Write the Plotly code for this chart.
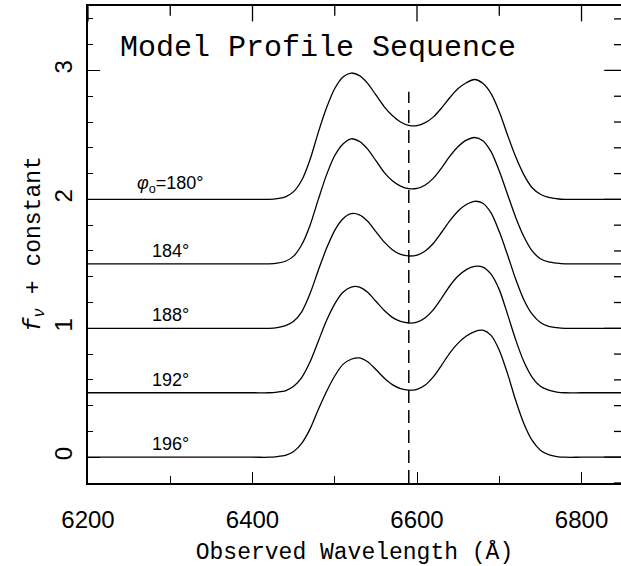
import plotly.graph_objects as go

# ---- data ----
wavelength = [6200, 6400, 6420, 6430, 6440, 6450, 6460, 6470, 6480, 6490, 6500,
              6510, 6520, 6530, 6540, 6550, 6560, 6570, 6580, 6590, 6600,
              6610, 6620, 6630, 6640, 6650, 6660, 6670, 6680, 6690, 6700,
              6710, 6720, 6730, 6740, 6750, 6760, 6770, 6780, 6800, 6850]

flux_180 = [0, 0, 0, 0.005, 0.02, 0.06, 0.15, 0.31, 0.52, 0.71, 0.86,
            0.95, 0.98, 0.96, 0.90, 0.81, 0.72, 0.65, 0.60, 0.574, 0.572,
            0.595, 0.64, 0.71, 0.79, 0.86, 0.905, 0.93, 0.90, 0.82, 0.68,
            0.50, 0.33, 0.19, 0.09, 0.04, 0.015, 0.005, 0, 0, 0]
flux_184 = [0, 0, 0, 0.005, 0.02, 0.06, 0.15, 0.30, 0.50, 0.69, 0.84,
            0.93, 0.97, 0.95, 0.89, 0.80, 0.71, 0.645, 0.603, 0.583, 0.585,
            0.612, 0.665, 0.745, 0.835, 0.91, 0.96, 0.98, 0.955, 0.87, 0.72,
            0.54, 0.36, 0.21, 0.10, 0.04, 0.015, 0.005, 0, 0, 0]
flux_188 = [0, 0, 0, 0.005, 0.02, 0.055, 0.13, 0.27, 0.45, 0.62, 0.76,
            0.85, 0.89, 0.88, 0.83, 0.75, 0.67, 0.61, 0.573, 0.561, 0.568,
            0.60, 0.66, 0.745, 0.835, 0.91, 0.96, 0.985, 0.97, 0.895, 0.75,
            0.57, 0.38, 0.22, 0.11, 0.045, 0.015, 0.005, 0, 0, 0]
flux_192 = [0, 0, 0, 0.005, 0.015, 0.05, 0.12, 0.24, 0.40, 0.56, 0.69,
            0.78, 0.82, 0.82, 0.78, 0.71, 0.64, 0.585, 0.553, 0.541, 0.548,
            0.582, 0.645, 0.735, 0.83, 0.905, 0.955, 0.98, 0.975, 0.92, 0.80,
            0.61, 0.41, 0.24, 0.12, 0.05, 0.02, 0.005, 0, 0, 0]
flux_196 = [0, 0, 0, 0.005, 0.015, 0.045, 0.11, 0.22, 0.37, 0.51, 0.63,
            0.72, 0.76, 0.77, 0.74, 0.68, 0.615, 0.563, 0.532, 0.52, 0.527,
            0.56, 0.625, 0.715, 0.81, 0.885, 0.94, 0.975, 0.985, 0.945, 0.83,
            0.65, 0.44, 0.26, 0.13, 0.055, 0.02, 0.005, 0, 0, 0]

profiles = [flux_180, flux_184, flux_188, flux_192, flux_196]
offsets = [2.0, 1.5, 1.0, 0.5, 0.0]
labels = ["<i>φ</i><sub>o</sub>=180°", "184°", "188°", "192°", "196°"]
label_wavelength = 6300

rest_wavelength = 6590
dash_top = 2.835

x_range = [6200, 6848]
y_range = [-0.2, 3.5]
x_ticks = [6200, 6400, 6600, 6800]
x_minor_ticks = [6300, 6500, 6700]
y_ticks = [0, 1, 2, 3]
y_minor_ticks = [-0.2, 0.2, 0.4, 0.6, 0.8, 1.2, 1.4, 1.6, 1.8,
                 2.2, 2.4, 2.6, 2.8, 3.2, 3.4]

MONO = "Liberation Mono, Courier New, monospace"
SANS = "Liberation Sans, Arial, Helvetica, sans-serif"

fig = go.Figure()

for prof, off in zip(profiles, offsets):
    fig.add_trace(go.Scatter(
        x=wavelength, y=[v + off for v in prof], mode="lines",
        line=dict(color="black", width=1.3, shape="spline", smoothing=0.8),
        showlegend=False, hoverinfo="skip"))

fig.add_trace(go.Scatter(
    x=[rest_wavelength, rest_wavelength], y=[y_range[0], dash_top], mode="lines",
    line=dict(color="black", width=1.5, dash="13px,7px"),
    showlegend=False, hoverinfo="skip"))

# mirrored tick marks on the top and right frame edges: line markers centred on the
# frame edge, half of each clipped away by the plot area
def edge_ticks(xs, ys, symbol, size):
    fig.add_trace(go.Scatter(
        x=xs, y=ys, mode="markers", cliponaxis=True,
        marker=dict(symbol=symbol, size=size, color="black",
                    line=dict(color="black", width=1.3)),
        showlegend=False, hoverinfo="skip"))

edge_ticks(x_ticks, [y_range[1]] * len(x_ticks), "line-ns", 22)
edge_ticks(x_minor_ticks, [y_range[1]] * len(x_minor_ticks), "line-ns", 14)
edge_ticks([x_range[1]] * len(y_ticks), y_ticks, "line-ew", 24)
edge_ticks([x_range[1]] * len(y_minor_ticks), y_minor_ticks, "line-ew", 10)

for lab, off in zip(labels, offsets):
    fig.add_annotation(x=label_wavelength, y=off, text=lab, showarrow=False,
                       xanchor="center", yanchor="bottom", yshift=1,
                       font=dict(family=SANS, size=18, color="black"))

fig.add_annotation(x=0.431, y=0.911, xref="paper", yref="paper",
                   text="Model Profile Sequence", showarrow=False,
                   xanchor="center", yanchor="middle",
                   font=dict(family=MONO, size=30, color="black"))

# y-axis title placed as rotated text left of the tick labels
fig.add_annotation(x=0, y=0.5, xref="paper", yref="paper", xshift=-53,
                   text="<i>f</i><sub><i>ν</i></sub> + constant", textangle=-90,
                   showarrow=False, xanchor="center", yanchor="middle",
                   font=dict(family=MONO, size=23, color="black"))

tick_common = dict(tickcolor="black", tickwidth=1.3, showgrid=False, zeroline=False,
                   automargin=False)

fig.update_layout(
    width=621, height=566,
    margin=dict(l=88, r=0, t=6, b=83, autoexpand=False),
    paper_bgcolor="white", plot_bgcolor="white",
    xaxis=dict(range=x_range, tickvals=x_ticks, ticks="inside", ticklen=11,
               showline=True, linecolor="black", linewidth=1.6, mirror=True,
               tickfont=dict(family=SANS, size=24, color="black"),
               ticklabelstandoff=14,
               minor=dict(tickvals=x_minor_ticks, ticks="inside", ticklen=7,
                          tickwidth=1.3, tickcolor="black", showgrid=False),
               title=dict(text="Observed Wavelength (Å)", standoff=11,
                          font=dict(family=MONO, size=23, color="black")),
               **tick_common),
    yaxis=dict(range=y_range, tickvals=y_ticks, ticks="inside", ticklen=12,
               showline=True, linecolor="black", linewidth=1.6, mirror=False,
               tickangle=-90, ticklabelstandoff=5,
               tickfont=dict(family=SANS, size=24, color="black"),
               minor=dict(tickvals=y_minor_ticks, ticks="inside", ticklen=5,
                          tickwidth=1.3, tickcolor="black", showgrid=False),
               **tick_common),
)

fig.write_html("out.html", config={"displayModeBar": False},
               post_script="document.body.style.margin='0';document.body.style.overflow='hidden';")
